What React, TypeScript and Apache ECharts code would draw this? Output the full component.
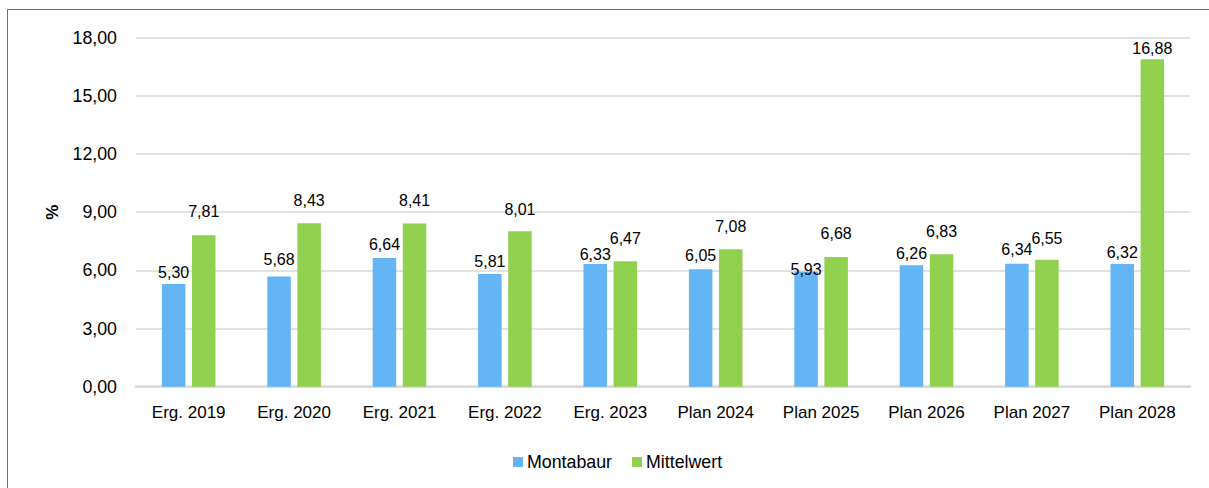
import React, { useEffect, useRef } from "react";
import * as echarts from "echarts";

const categories = [
  "Erg. 2019", "Erg. 2020", "Erg. 2021", "Erg. 2022", "Erg. 2023",
  "Plan 2024", "Plan 2025", "Plan 2026", "Plan 2027", "Plan 2028",
];
const montabaur = [5.3, 5.68, 6.64, 5.81, 6.33, 6.05, 5.93, 6.26, 6.34, 6.32];
const mittelwert = [7.81, 8.43, 8.41, 8.01, 6.47, 7.08, 6.68, 6.83, 6.55, 16.88];
const seriesNames = ["Montabaur", "Mittelwert"];
const yTicks = { min: 0, max: 18, interval: 3 };

// label distances above bars (styling, as placed in the original)
const blueLabelDist = [3, 9.5, 5, 4, 1, 6, -5.5, 3.5, 6, 3.5];
const greenLabelDist = [15.5, 14.5, 15, 13.5, 14.5, 14.5, 15.5, 15, 13.5, 3];

const FONT = "'Liberation Sans', Arial, sans-serif";
const fmt = (v: number) => v.toFixed(2).replace(".", ",");

export default function App() {
  const ref = useRef<HTMLDivElement>(null);
  useEffect(() => {
    document.body.style.margin = "0";
    const chart = echarts.init(ref.current!, undefined, { renderer: "svg" });
    const mkData = (vals: number[], dists: number[]) =>
      vals.map((v, i) => ({ value: v, label: { distance: dists[i] } }));
    const labelCfg = {
      show: true,
      position: "top",
      color: "#000",
      fontSize: 16,
      fontFamily: FONT,
      formatter: (p: any) => fmt(p.value),
    };
    chart.setOption({
      animation: false,
      backgroundColor: "#ffffff",
      textStyle: { fontFamily: FONT },
      grid: { left: 136, right: 19, top: 37.5, bottom: 101.3, containLabel: false },
      legend: {
        data: seriesNames,
        left: 513,
        top: 453,
        padding: 0,
        itemWidth: 10,
        itemHeight: 10,
        itemGap: 20,
        icon: "rect",
        textStyle: { fontFamily: FONT, fontSize: 17.8, color: "#000", padding: [0, 0, 0, -1] },
      },
      xAxis: {
        type: "category",
        data: categories,
        axisLine: { lineStyle: { color: "#d9d9d9", width: 2.5 } },
        axisTick: { show: false },
        axisLabel: { color: "#000", fontSize: 17, fontFamily: FONT, margin: 17, interval: 0 },
      },
      yAxis: {
        type: "value",
        min: yTicks.min,
        max: yTicks.max,
        interval: yTicks.interval,
        name: "%",
        nameLocation: "middle",
        nameRotate: 90,
        nameGap: 75,
        nameTextStyle: { color: "#000", fontSize: 17, fontWeight: "bold", fontFamily: FONT },
        axisLine: { show: false },
        axisTick: { show: false },
        axisLabel: {
          color: "#000",
          fontSize: 17.8,
          fontFamily: FONT,
          margin: 19,
          formatter: (v: number) => fmt(v),
        },
        splitLine: { lineStyle: { color: "#d9d9d9", width: 1.5 } },
      },
      series: [
        {
          name: seriesNames[0],
          type: "bar",
          data: mkData(montabaur, blueLabelDist),
          barWidth: 23.5,
          barGap: "28%",
          itemStyle: { color: "#64b5f6" },
          label: labelCfg,
        },
        {
          name: seriesNames[1],
          type: "bar",
          data: mkData(mittelwert, greenLabelDist),
          barWidth: 23.5,
          barGap: "28%",
          itemStyle: { color: "#92d050" },
          label: labelCfg,
        },
      ],
      graphic: [
        {
          type: "line",
          shape: { x1: 7.5, y1: 9.5, x2: 1209, y2: 9.5 },
          style: { stroke: "#6e6e6e", lineWidth: 1 },
        },
        {
          type: "line",
          shape: { x1: 7.5, y1: 9.5, x2: 7.5, y2: 488 },
          style: { stroke: "#6e6e6e", lineWidth: 1 },
        },
      ],
    });
    return () => chart.dispose();
  }, []);
  return <div ref={ref} style={{ width: 1209, height: 488 }} />;
}
